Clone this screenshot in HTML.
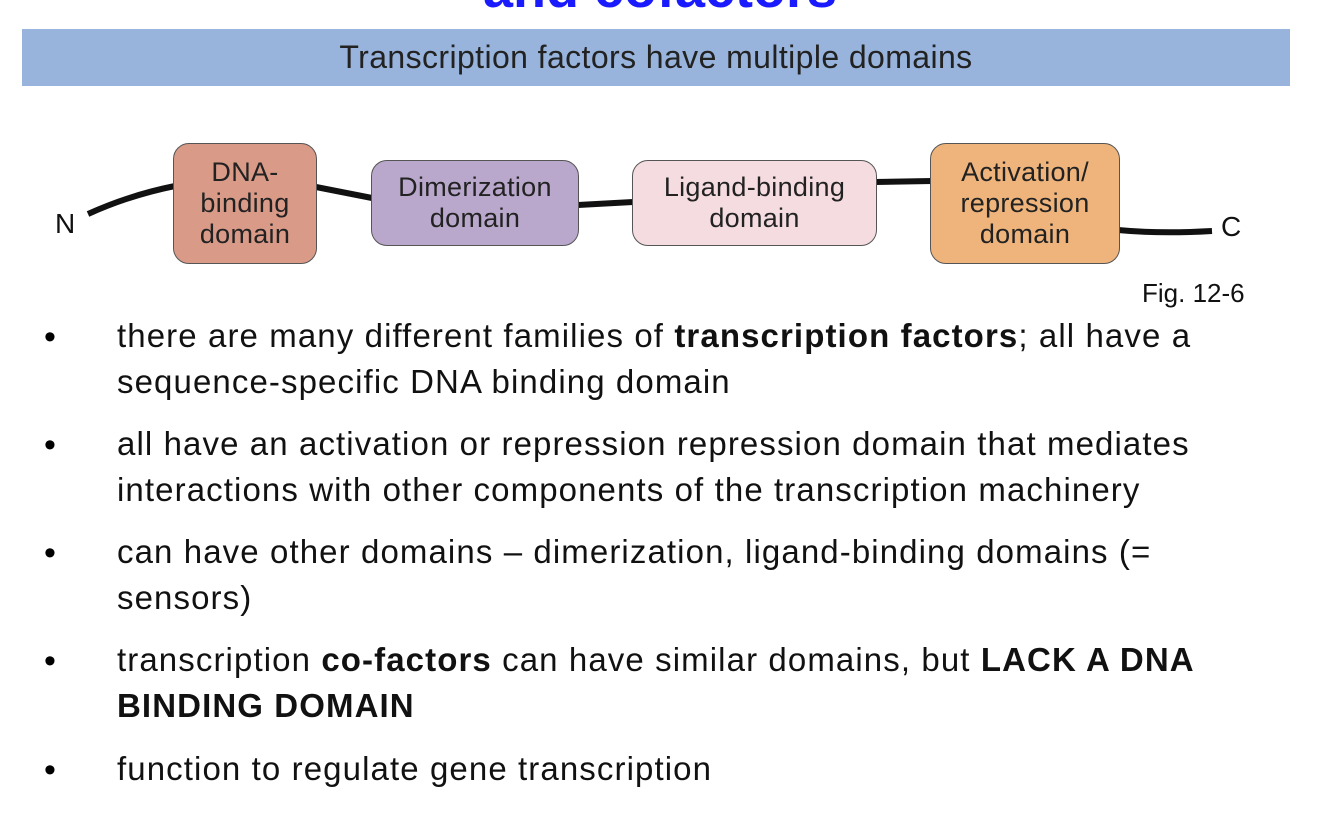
<!DOCTYPE html>
<html><head><meta charset="utf-8"><style>
body{margin:0;width:1334px;height:831px;background:#fff;position:relative;overflow:hidden;font-family:"Liberation Sans",sans-serif}
.t{position:absolute;left:450px;top:-42px;width:420px;text-align:center;font-weight:bold;color:#1a1aff;font-size:54px;white-space:nowrap}
.band{position:absolute;left:22px;top:29px;width:1268px;height:57px;background:#98b4dc;text-align:center;line-height:56px;font-size:32px;color:#222;letter-spacing:0.4px}
.box{position:absolute;border:1.5px solid #555;border-radius:16px;box-sizing:border-box;display:flex;align-items:center;justify-content:center;text-align:center;font-size:27px;line-height:31px;color:#222;letter-spacing:0.3px}
.b{position:absolute;left:117px;font-size:33px;letter-spacing:1.1px;line-height:46px;color:#111;white-space:nowrap}
.d{position:absolute;left:44px;font-size:34px}
</style></head><body>
<div class="t">and cofactors</div>
<div class="band">Transcription factors have multiple domains</div>
<svg width="1334" height="300" style="position:absolute;left:0;top:0">
<path d="M88 214 Q130 195 175 186" stroke="#111" stroke-width="6" fill="none"/>
<path d="M316 187 L372 198" stroke="#111" stroke-width="6" fill="none"/>
<path d="M578 205 L633 202" stroke="#111" stroke-width="6" fill="none"/>
<path d="M875 182 L932 181" stroke="#111" stroke-width="6" fill="none"/>
<path d="M1118 230 Q1160 234 1212 231" stroke="#111" stroke-width="6" fill="none"/>
<text x="55" y="233" font-size="28" font-family="Liberation Sans" fill="#111">N</text>
<text x="1221" y="236" font-size="28" font-family="Liberation Sans" fill="#111">C</text>
</svg>
<div class="box" style="left:173px;top:143px;width:144px;height:121px;background:#d99a88">DNA-<br>binding<br>domain</div>
<div class="box" style="left:371px;top:160px;width:208px;height:86px;background:#b9a8cc">Dimerization<br>domain</div>
<div class="box" style="left:632px;top:160px;width:245px;height:86px;background:#f5dce0">Ligand-binding<br>domain</div>
<div class="box" style="left:930px;top:143px;width:190px;height:121px;background:#eeb47c">Activation/<br>repression<br>domain</div>
<div style="position:absolute;left:1142px;top:278px;font-size:26px;color:#111">Fig. 12-6</div>
<div class="d" style="top:318px">•</div>
<div class="b" style="top:313px">there are many different families of <b>transcription factors</b>; all have a<br>sequence-specific DNA binding domain</div>
<div class="d" style="top:426px">•</div>
<div class="b" style="top:421px">all have an activation or repression repression domain that mediates<br>interactions with other components of the transcription machinery</div>
<div class="d" style="top:534px">•</div>
<div class="b" style="top:529px">can have other domains – dimerization, ligand-binding domains (=<br>sensors)</div>
<div class="d" style="top:642px">•</div>
<div class="b" style="top:637px">transcription <b>co-factors</b> can have similar domains, but <b>LACK A DNA<br>BINDING DOMAIN</b></div>
<div class="d" style="top:751px">•</div>
<div class="b" style="top:746px">function to regulate gene transcription</div>
</body></html>
